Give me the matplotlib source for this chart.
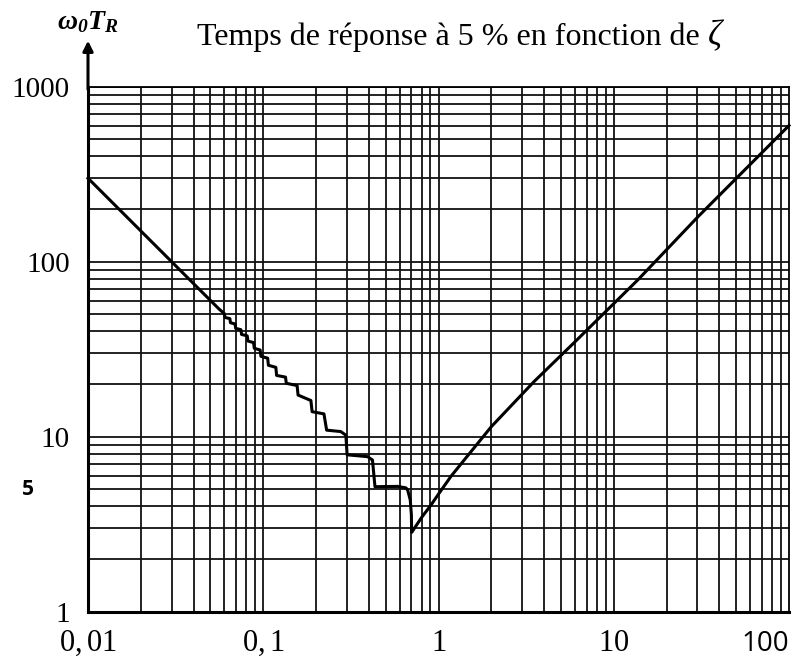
import matplotlib
matplotlib.use('Agg')
import matplotlib.pyplot as plt
from matplotlib.ticker import LogLocator, NullFormatter, FixedLocator, FixedFormatter
import numpy as np

plt.rcParams['mathtext.fontset'] = 'custom'
plt.rcParams['mathtext.rm'] = 'Liberation Serif'
plt.rcParams['mathtext.it'] = 'Liberation Serif:italic'
plt.rcParams['mathtext.bf'] = 'Liberation Serif:bold:italic'
plt.rcParams['mathtext.fallback'] = 'stix'

# Values (damping ratio zeta vs w0*T_R)
zeta = [0.01, 0.02, 0.03, 0.04, 0.05, 0.056,
        0.060, 0.0605, 0.0645, 0.065, 0.069, 0.0696, 0.0745, 0.0752,
        0.081, 0.0818, 0.088, 0.0889, 0.096, 0.097, 0.106, 0.107,
        0.118, 0.1192, 0.134, 0.1353, 0.156, 0.158, 0.179, 0.187,
        0.190, 0.222, 0.230, 0.277, 0.296, 0.301, 0.394, 0.42, 0.434,
        0.585, 0.652, 0.667, 0.69, 0.700, 0.703,
        0.8, 0.906, 1.0, 1.18, 1.5, 2.0, 3.5, 6.0, 13.7, 30.3, 100]
w0_tr = [300, 150, 100, 75, 60, 53.6,
         50.5, 48.0, 47.3, 44.8, 44.1, 41.6, 40.9, 38.4,
         37.7, 35.2, 34.5, 32.0, 31.3, 28.8, 28.1, 25.6,
         24.9, 22.4, 21.9, 20.2, 19.6, 17.3, 16.4, 16.1,
         13.9, 13.5, 10.9, 10.7, 10.2, 7.88, 7.69, 7.36, 5.18,
         5.2, 5.1, 4.96, 4.35, 3.6, 2.84,
         3.45, 4.07, 4.7, 5.95, 8.0, 11.4, 20.6, 34.8, 78.6, 181, 600]

x_ticks = [0.01, 0.1, 1, 10]
x_labels = ['$0,01$', '$0,1$', '$1$', '$10$']
y_ticks = [1, 10, 100, 1000]
y_labels = ['1', '10', '100', '1000']

fig = plt.figure(figsize=(7.94, 6.59), dpi=100)
ax = fig.add_axes([88 / 794, (659 - 611.7) / 659, 701 / 794, 525 / 659])

ax.set_xscale('log')
ax.set_yscale('log')
ax.set_xlim(0.01, 100)
ax.set_ylim(1, 1000)

ax.xaxis.set_major_locator(FixedLocator(x_ticks))
ax.xaxis.set_major_formatter(FixedFormatter(x_labels))
ax.yaxis.set_major_locator(FixedLocator(y_ticks))
ax.yaxis.set_major_formatter(FixedFormatter(y_labels))
for axis in (ax.xaxis, ax.yaxis):
    axis.set_minor_locator(LogLocator(base=10, subs=np.arange(2, 10), numticks=20))
    axis.set_minor_formatter(NullFormatter())

ax.grid(True, which='both', color='#111111', linewidth=1.3)
ax.tick_params(which='both', length=0)
ax.tick_params(axis='y', pad=13)
ax.tick_params(axis='x', pad=12)
for lab in ax.get_yticklabels():
    lab.set_fontfamily('Liberation Serif')
    lab.set_fontsize(21)
for lab in ax.get_xticklabels():
    lab.set_fontsize(22)

for side in ('left', 'bottom'):
    ax.spines[side].set_linewidth(2.2)
for side in ('top', 'right'):
    ax.spines[side].set_linewidth(1.3)

ax.plot(zeta, w0_tr, color='black', linewidth=2.2, zorder=5, clip_on=False)

# extra labels
ax.text(100, -0.035, '100', transform=ax.get_xaxis_transform(), ha='right', va='top',
        fontfamily='Open Sans', fontsize=20)
ax.text(-0.085, 5, '5', transform=ax.get_yaxis_transform(), ha='center', va='center',
        fontfamily='Open Sans', fontweight='bold', fontsize=15)

# arrow on the vertical axis
ax.annotate('', xy=(0, 1 + 46 / 525), xytext=(0, 0.995), xycoords='axes fraction',
            arrowprops=dict(arrowstyle='-|>', color='black', lw=2.2, mutation_scale=15,
                            shrinkA=0, shrinkB=0), annotation_clip=False)

fig.text(88 / 794, 1 - 21 / 659, r'$\mathbf{\omega_0 T_R}$', ha='center', va='center', fontsize=20)
fig.text(197 / 794, 1 - 45 / 659, 'Temps de réponse à 5 % en fonction de', ha='left',
         va='baseline', fontfamily='Liberation Serif', fontsize=23)
fig.text(716 / 794, 1 - 45 / 659, r'$\zeta$', ha='center', va='baseline', fontsize=25)

fig.savefig('out.png', dpi=100)
